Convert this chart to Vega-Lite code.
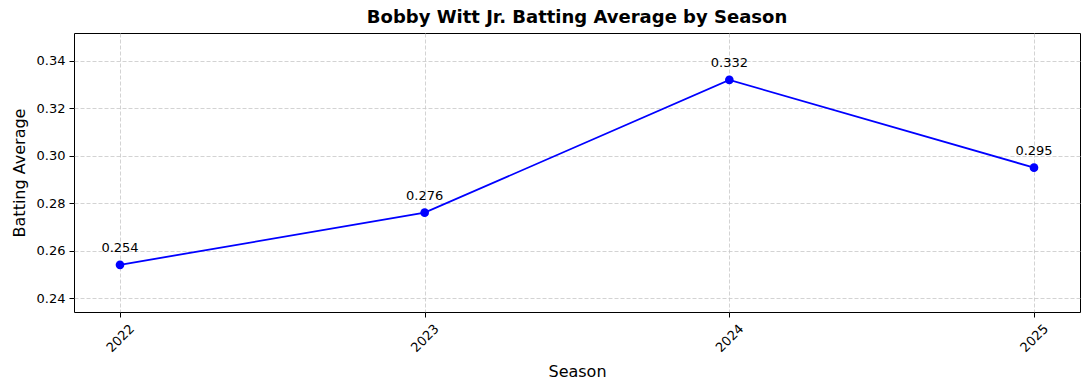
{
  "$schema": "https://vega.github.io/schema/vega-lite/v6.json",
  "width": 1006,
  "height": 279,
  "autosize": {"type": "none"},
  "padding": {"left": 74, "top": 33, "right": 9, "bottom": 78},
  "background": "white",
  "title": {
    "text": "Bobby Witt Jr. Batting Average by Season",
    "fontSize": 18,
    "fontWeight": "bold",
    "font": "DejaVu Sans",
    "color": "black",
    "anchor": "middle",
    "offset": 6
  },
  "data": {
    "values": [
      {"Season": 2022, "AVG": 0.254},
      {"Season": 2023, "AVG": 0.276},
      {"Season": 2024, "AVG": 0.332},
      {"Season": 2025, "AVG": 0.295}
    ]
  },
  "encoding": {
    "x": {
      "field": "Season",
      "type": "quantitative",
      "scale": {"domain": [2021.849, 2025.151], "nice": false, "zero": false},
      "axis": {
        "title": "Season",
        "values": [2022, 2023, 2024, 2025],
        "format": "d",
        "labelAngle": -45,
        "labelAlign": "center",
        "labelBaseline": "middle",
        "labelPadding": 21,
        "titlePadding": 9
      }
    },
    "y": {
      "field": "AVG",
      "type": "quantitative",
      "scale": {"domain": [0.2341, 0.3518], "nice": false, "zero": false},
      "axis": {
        "title": "Batting Average",
        "values": [0.24, 0.26, 0.28, 0.30, 0.32, 0.34],
        "format": ".2f",
        "titlePadding": 9
      }
    }
  },
  "layer": [
    {"mark": {"type": "line", "color": "#0000ff", "strokeWidth": 1.8}},
    {"mark": {"type": "point", "filled": true, "color": "#0000ff", "size": 75, "opacity": 1}},
    {
      "mark": {"type": "text", "dy": -17, "fontSize": 13, "color": "black", "font": "DejaVu Sans"},
      "encoding": {"text": {"field": "AVG", "type": "quantitative", "format": ".3f"}}
    }
  ],
  "config": {
    "font": "DejaVu Sans",
    "view": {"stroke": "black", "strokeWidth": 1},
    "axis": {
      "grid": true,
      "gridColor": "#c8c8c8",
      "gridDash": [4, 2],
      "gridWidth": 0.8,
      "domain": false,
      "tickColor": "black",
      "tickSize": 5,
      "tickWidth": 1,
      "labelFontSize": 13,
      "labelColor": "black",
      "labelFont": "DejaVu Sans",
      "titleFontSize": 16,
      "titleFontWeight": "normal",
      "titleColor": "black",
      "titleFont": "DejaVu Sans",
      "labelPadding": 4
    }
  }
}
